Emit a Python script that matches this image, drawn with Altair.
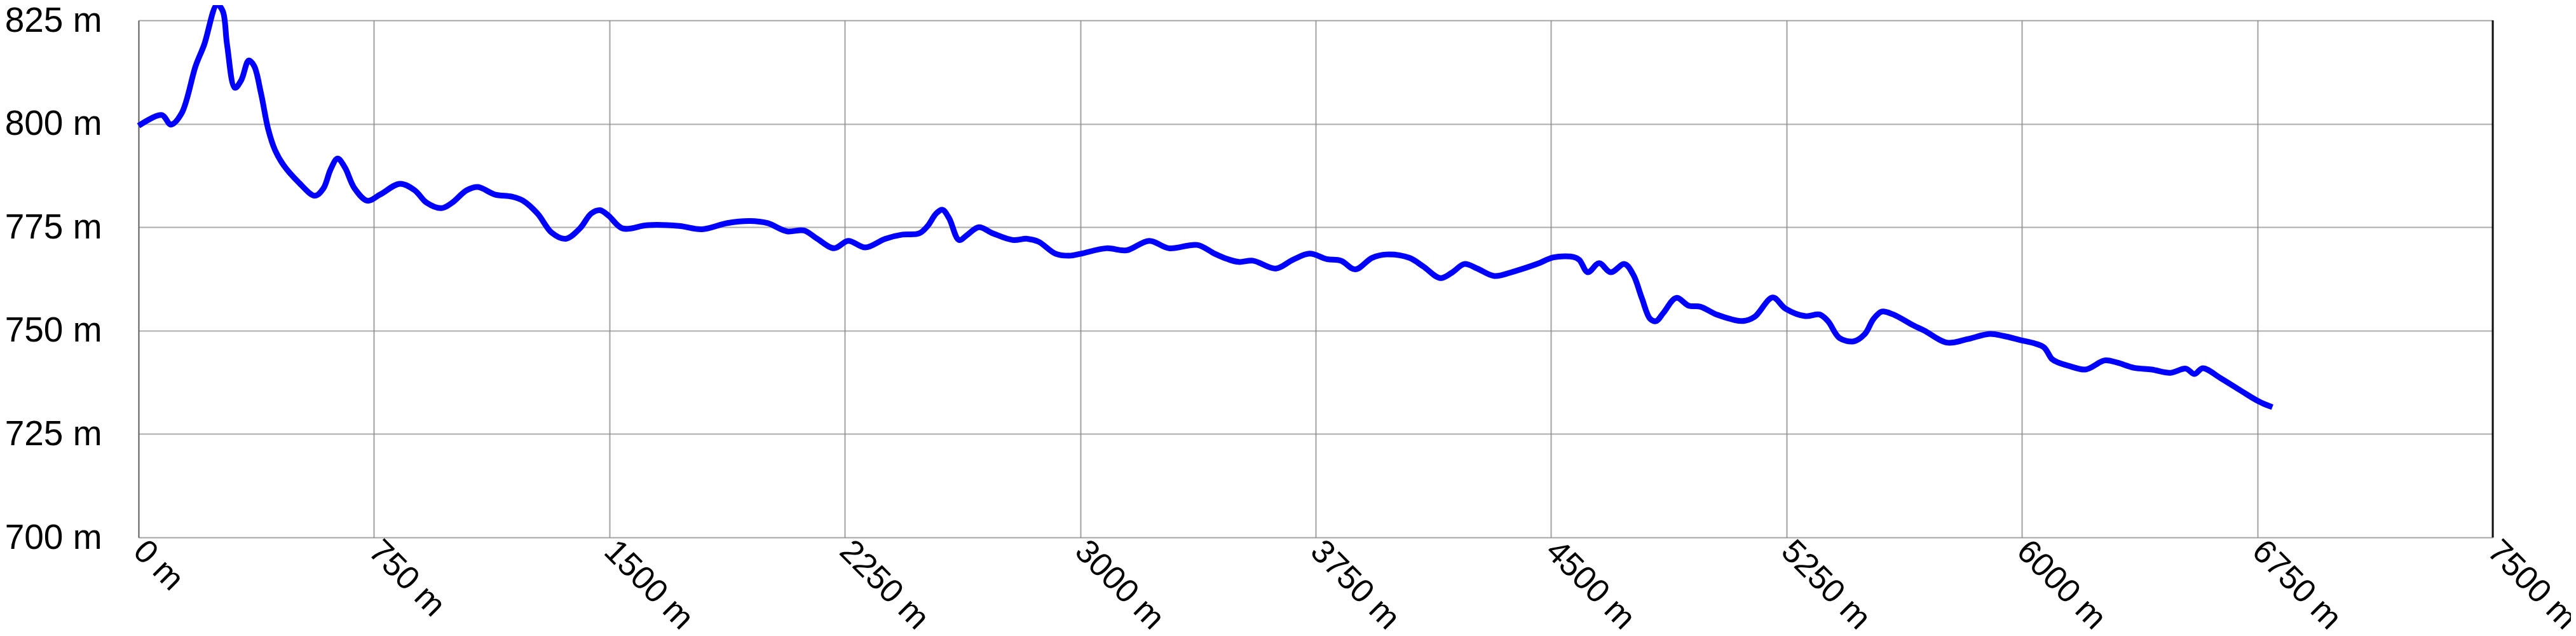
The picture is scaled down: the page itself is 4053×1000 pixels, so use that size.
import altair as alt
import pandas as pd

# distance along route (m) and elevation (m)
distance = [0, 74, 103, 137, 182, 209, 250, 268, 282, 307, 327, 351, 368, 390, 413, 435, 462, 508,
            562, 589, 612, 634, 657, 688, 729, 770, 833, 880, 918, 965, 999, 1045, 1081, 1135,
            1189, 1225, 1271, 1316, 1361, 1406, 1442, 1470, 1497, 1542, 1623, 1722, 1795, 1876,
            1948, 2003, 2066, 2120, 2162, 2216, 2261, 2315, 2379, 2433, 2487, 2514, 2541, 2561,
            2582, 2614, 2641, 2677, 2722, 2785, 2831, 2867, 2921, 2966, 3003, 3084, 3147, 3220,
            3283, 3373, 3428, 3469, 3505, 3550, 3623, 3677, 3731, 3785, 3831, 3876, 3930, 3975,
            4048, 4093, 4147, 4184, 4224, 4265, 4319, 4382, 4455, 4508, 4572, 4590, 4617, 4653,
            4690, 4734, 4762, 4789, 4816, 4835, 4858, 4899, 4939, 4975, 5030, 5111, 5148, 5206,
            5247, 5310, 5355, 5382, 5419, 5464, 5500, 5527, 5554, 5590, 5653, 5689, 5761, 5825,
            5897, 5942, 5996, 6041, 6071, 6096, 6115, 6148, 6203, 6264, 6302, 6358, 6413, 6473,
            6522, 6550, 6576, 6633, 6699, 6754, 6798]
elevation = [799.5, 802.1, 799.8, 802.5, 814.0, 819.1, 828.8, 827.3, 819.1, 808.7, 810.5, 815.3,
             814.0, 807.4, 798.7, 793.6, 790.0, 786.0, 782.6, 784.4, 789.0, 791.6, 789.5, 784.4,
             781.4, 782.9, 785.5, 783.9, 780.9, 779.6, 780.9, 783.9, 784.7, 782.9, 782.4, 781.4,
             778.3, 773.7, 772.2, 774.7, 778.3, 779.1, 777.8, 774.7, 775.5, 775.3, 774.5, 776.0,
             776.5, 776.0, 774.0, 774.2, 772.2, 769.9, 771.7, 770.1, 772.2, 773.2, 773.5, 775.3,
             778.3, 779.2, 777.2, 771.9, 773.2, 775.0, 773.5, 771.9, 772.2, 771.5, 768.6, 768.1,
             768.6, 769.9, 769.4, 771.7, 769.9, 770.7, 768.6, 767.3, 766.6, 766.9, 765.0, 767.1,
             768.6, 767.3, 766.9, 764.8, 767.6, 768.4, 767.6, 765.5, 762.7, 764.0, 766.1, 765.0,
             763.2, 764.3, 766.1, 767.7, 767.8, 767.1, 764.1, 766.3, 764.1, 766.1, 763.5, 757.9,
             752.8, 752.3, 754.3, 757.9, 756.0, 755.8, 753.8, 752.3, 753.3, 758.0, 755.3, 753.5,
             753.9, 752.3, 748.2, 747.4, 749.2, 752.8, 754.6, 753.9, 751.3, 750.0, 747.1, 747.9,
             749.2, 748.7, 747.7, 746.9, 745.9, 743.1, 742.3, 741.5, 740.6, 742.8, 742.3, 741.0,
             740.6, 739.8, 740.8, 739.5, 740.9, 738.5, 735.4, 732.9, 731.5]

x_ticks = [0, 750, 1500, 2250, 3000, 3750, 4500, 5250, 6000, 6750, 7500]
y_ticks = [700, 725, 750, 775, 800, 825]

df = pd.DataFrame({"d": distance, "e": elevation})
border = pd.DataFrame({"x": [x_ticks[-1]]})

FONT = "Liberation Sans"

line = alt.Chart(df).mark_line(
    color="#0000FF", strokeWidth=9, interpolate="catmull-rom", clip=False
).encode(
    x=alt.X("d:Q",
            scale=alt.Scale(domain=[x_ticks[0], x_ticks[-1]], nice=False, zero=False),
            axis=alt.Axis(values=x_ticks, title=None, labelExpr="datum.value + ' m'",
                          labelAngle=45, labelAlign="left", labelBaseline="middle",
                          labelPadding=13, labelLimit=0, labelOverlap=False,
                          ticks=False, domain=False,
                          gridColor="#7a7a7a", gridOpacity=0.7, gridWidth=2,
                          labelFont=FONT, labelFontSize=52, labelColor="#000000")),
    y=alt.Y("e:Q",
            scale=alt.Scale(domain=[y_ticks[0], y_ticks[-1]], nice=False, zero=False),
            axis=alt.Axis(values=y_ticks, title=None, labelExpr="datum.value + ' m'",
                          labelPadding=58, labelLimit=0, labelOverlap=False,
                          ticks=False, domain=True, domainColor="#555555",
                          domainWidth=1.5,
                          gridColor="#8a8a8a", gridOpacity=0.7, gridWidth=2,
                          labelFont=FONT, labelFontSize=55, labelColor="#000000")),
)

rule = alt.Chart(border).mark_rule(color="#111111", strokeWidth=3).encode(x="x:Q")

chart = alt.layer(line, rule).properties(
    width=3704, height=813,
    autosize=alt.AutoSizeParams(type="none"),
    padding={"left": 210, "top": 24, "right": 123, "bottom": 155},
).configure_view(stroke=None).configure(background="white")

chart.save("out.html", embed_options={"renderer": "svg", "actions": False})
